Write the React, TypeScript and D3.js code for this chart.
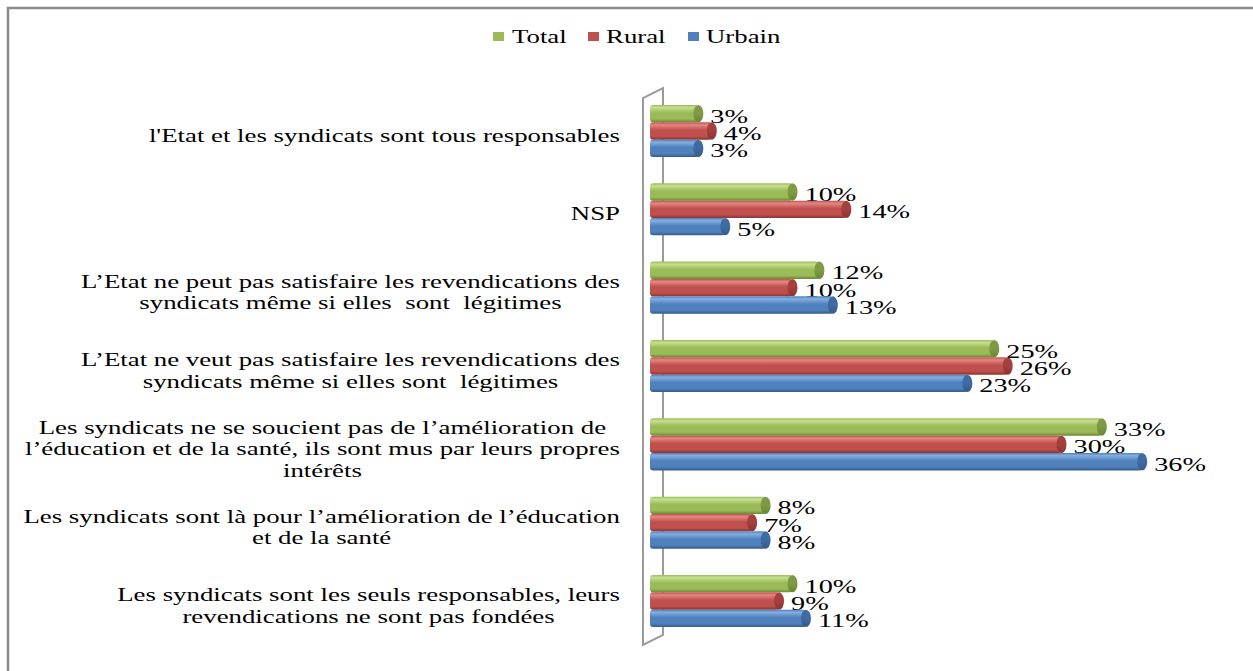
import React from 'react';
import * as d3 from 'd3';

const categories = [
  "l'Etat et les syndicats sont tous responsables",
  "NSP",
  "L’Etat ne peut pas satisfaire les revendications des\nsyndicats même si elles  sont  légitimes",
  "L’Etat ne veut pas satisfaire les revendications des\nsyndicats même si elles sont  légitimes",
  "Les syndicats ne se soucient pas de l’amélioration de\nl’éducation et de la santé, ils sont mus par leurs propres\nintérêts",
  "Les syndicats sont là pour l’amélioration de l’éducation\net de la santé",
  "Les syndicats sont les seuls responsables, leurs\nrevendications ne sont pas fondées",
];
const seriesNames = ["Total", "Rural", "Urbain"];
const totalValues = [3, 10, 12, 25, 33, 8, 10];
const ruralValues = [4, 14, 10, 26, 30, 7, 9];
const urbainValues = [3, 5, 13, 23, 36, 8, 11];
const seriesValues = [totalValues, ruralValues, urbainValues];

const W = 1253, H = 671;
const FONT = "'Liberation Serif', 'Times New Roman', serif";
const FS = 18.5;
const SX = 1.45;

const palette = [
  { light: '#c6df8f', base: '#9bbb59', dark: '#6a8634', cap: '#7f9a45' },
  { light: '#e48784', base: '#c0504d', dark: '#8a3432', cap: '#a4403d' },
  { light: '#86aee0', base: '#4f81bd', dark: '#355a88', cap: '#3f6ba3' },
];

function measure(text: string): number {
  const c = document.createElement('canvas').getContext('2d');
  if (!c) return text.length * 8;
  c.font = `${FS}px ${FONT}`;
  return c.measureText(text).width;
}

export default function App() {
  const x = d3.scaleLinear().domain([0, 40]).range([663, 663 + 13.45 * 40]);
  const y = d3.scaleBand<string>().domain(categories).range([92, 640]).paddingInner(0.335).paddingOuter(0.165);
  const ys = d3.scaleBand<string>().domain(seriesNames).range([0, y.bandwidth()]);
  const barLeft = 650;
  const bh = ys.bandwidth();

  const legendItems = [
    { name: 'Total', sx: 493, tx: 512 },
    { name: 'Rural', sx: 588, tx: 606 },
    { name: 'Urbain', sx: 688, tx: 706 },
  ];

  return (
    <svg width={W} height={H} style={{ position: 'absolute', left: 0, top: 0, background: '#fff' }}
      fontFamily={FONT}>
      <defs>
        {palette.map((p, i) => (
          <linearGradient key={i} id={`g${i}`} x1="0" y1="0" x2="0" y2="1">
            <stop offset="0" stopColor={p.base} />
            <stop offset="0.15" stopColor={p.light} />
            <stop offset="0.45" stopColor={p.base} />
            <stop offset="0.8" stopColor={p.base} />
            <stop offset="1" stopColor={p.dark} />
          </linearGradient>
        ))}
        {palette.map((p, i) => (
          <linearGradient key={'c' + i} id={`c${i}`} x1="0" y1="0" x2="0" y2="1">
            <stop offset="0" stopColor={p.cap} />
            <stop offset="0.5" stopColor={p.cap} />
            <stop offset="1" stopColor={p.dark} />
          </linearGradient>
        ))}
      </defs>
      <rect x={0} y={0} width={W} height={H} fill="#fff" />
      <rect x={8} y={8} width={W + 20} height={H + 20} fill="none" stroke="#8a8a8a" strokeWidth={2.5} />

      {/* legend */}
      {legendItems.map((l, i) => (
        <g key={l.name}>
          <rect x={l.sx} y={32} width={11} height={9} fill={palette[i].base} />
          <text transform={`translate(${l.tx},43) scale(${SX},1)`} fontSize={FS} fill="#000">{l.name}</text>
        </g>
      ))}

      {/* 3D wall */}
      <path d="M643,645 L643,98 L663,88 L663,635 Z" fill="#fff" stroke="#9a9a9a" strokeWidth={2} />

      {/* category labels */}
      {categories.map((c) => {
        const lines = c.split('\n');
        const maxW = Math.max(...lines.map(measure)) * SX;
        const cx = 620 - maxW / 2;
        const lh = 21.5;
        const mid = (y(c) ?? 0) + y.bandwidth() / 2 + 5;
        const first = mid - ((lines.length - 1) * lh) / 2 + 6;
        return lines.map((ln, k) => (
          <text key={c + k} transform={`translate(${cx},${first + k * lh}) scale(${SX},1)`}
            textAnchor="middle" fontSize={FS} fill="#000" style={{ whiteSpace: 'pre' }}>{ln}</text>
        ));
      })}

      {/* bars */}
      {seriesNames.map((s, si) => (
        <g key={s}>
          {categories.map((c, ci) => {
            const v = seriesValues[si][ci];
            const top = (y(c) ?? 0) + (ys(s) ?? 0);
            const xe = x(v);
            const rx = 5;
            return (
              <g key={c}>
                <rect x={barLeft} y={top} width={xe - rx - barLeft} height={bh} rx={3} ry={3} fill={`url(#g${si})`} />
                <ellipse cx={xe - rx} cy={top + bh / 2} rx={rx} ry={bh / 2} fill={`url(#c${si})`} />
              </g>
            );
          })}
          {categories.map((c, ci) => {
            const v = seriesValues[si][ci];
            const top = (y(c) ?? 0) + (ys(s) ?? 0);
            return (
              <text key={'t' + c} transform={`translate(${x(v) + 7},${top + bh / 2 + 9}) scale(${SX},1)`}
                fontSize={FS + 1} fill="#000">{`${v}%`}</text>
            );
          })}
        </g>
      ))}
    </svg>
  );
}
